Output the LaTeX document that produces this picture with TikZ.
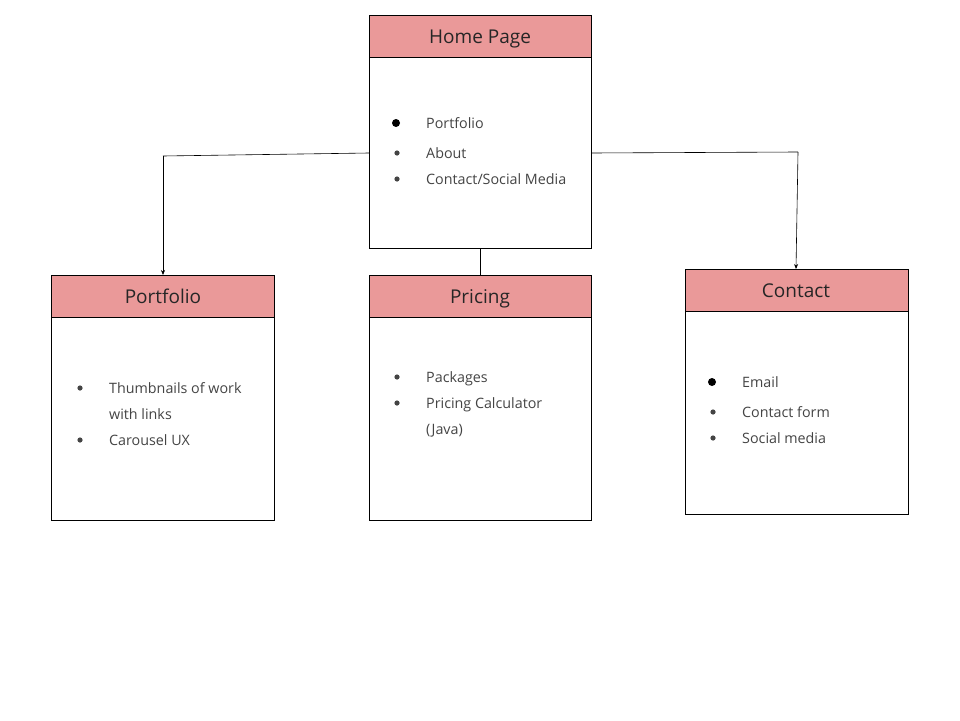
\documentclass[tikz,border=0pt]{standalone}
\usepackage{fontspec}
\setmainfont{Open Sans}
\usetikzlibrary{arrows.meta}
\definecolor{hdr}{HTML}{EA9999}
\definecolor{txt}{HTML}{444444}
\tikzset{
  x=1pt, y=-1pt,
  hbox/.style={draw=black, fill=hdr, line width=0.8pt},
  bbox/.style={draw=black, fill=white, line width=0.8pt},
  htext/.style={anchor=base, font=\fontsize{19}{22}\selectfont, text=black!85},
  item/.style={anchor=base west, font=\fontsize{14.3}{17}\selectfont, text=txt, inner sep=0pt},
  sdot/.style={fill=txt, draw=none},
  bdot/.style={fill=black, draw=none},
  conn/.style={draw=black, line width=0.6pt},
  arr/.style={conn, -{Stealth[length=5pt,width=4pt]}}
}
\begin{document}
\begin{tikzpicture}
\useasboundingbox (0,0) rectangle (960,720);
% Home
\path[bbox] (369,57) rectangle (591,248);
\path[hbox] (369,15) rectangle (591,57);
\node[htext] (homeh) at (480,43) {Home Page};
\coordinate (homeL) at (369,153);
\coordinate (homeR) at (591,153);
\coordinate (homeB) at (480,248);
\fill[bdot] (396,123) circle (4);
\fill[sdot] (397,153) circle (2.6);
\fill[sdot] (397,179) circle (2.6);
\node[item] (h1) at (426,128) {Portfolio};
\node[item] (h2) at (426,158) {About};
\node[item] (h3) at (426,184) {Contact/Social Media};
% Portfolio
\path[bbox] (51,317) rectangle (274,520);
\path[hbox] (51,275) rectangle (274,317);
\node[htext] (porth) at (163,303) {Portfolio};
\coordinate (portT) at (163,275);
\fill[sdot] (80,388) circle (2.6);
\fill[sdot] (80,440) circle (2.6);
\node[item] (p1) at (109,393) {Thumbnails of work};
\node[item] (p2) at (109,419) {with links};
\node[item] (p3) at (109,445) {Carousel UX};
% Pricing
\path[bbox] (369,317) rectangle (591,520);
\path[hbox] (369,275) rectangle (591,317);
\node[htext] (prich) at (480,303) {Pricing};
\coordinate (pricT) at (480,275);
\fill[sdot] (397,377) circle (2.6);
\fill[sdot] (397,403) circle (2.6);
\node[item] (r1) at (426,382) {Packages};
\node[item] (r2) at (426,408) {Pricing Calculator};
\node[item] (r3) at (426,434) {(Java)};
% Contact
\path[bbox] (685,311) rectangle (908,514);
\path[hbox] (685,269) rectangle (908,311);
\node[htext] (conth) at (796,297) {Contact};
\coordinate (contT) at (796,269);
\fill[bdot] (712,382) circle (4);
\fill[sdot] (713,412) circle (2.6);
\fill[sdot] (713,438) circle (2.6);
\node[item] (c1) at (742,387) {Email};
\node[item] (c2) at (742,417) {Contact form};
\node[item] (c3) at (742,443) {Social media};
% connectors
\coordinate (cornL) at (163,156);
\coordinate (cornR) at (798,152);
\draw[conn] (homeL) -- (cornL);
\draw[arr] (cornL) -- (portT);
\draw[conn] (homeR) -- (cornR);
\draw[arr] (cornR) -- (contT);
\draw[conn] (homeB) -- (pricT);
\end{tikzpicture}
\end{document}
